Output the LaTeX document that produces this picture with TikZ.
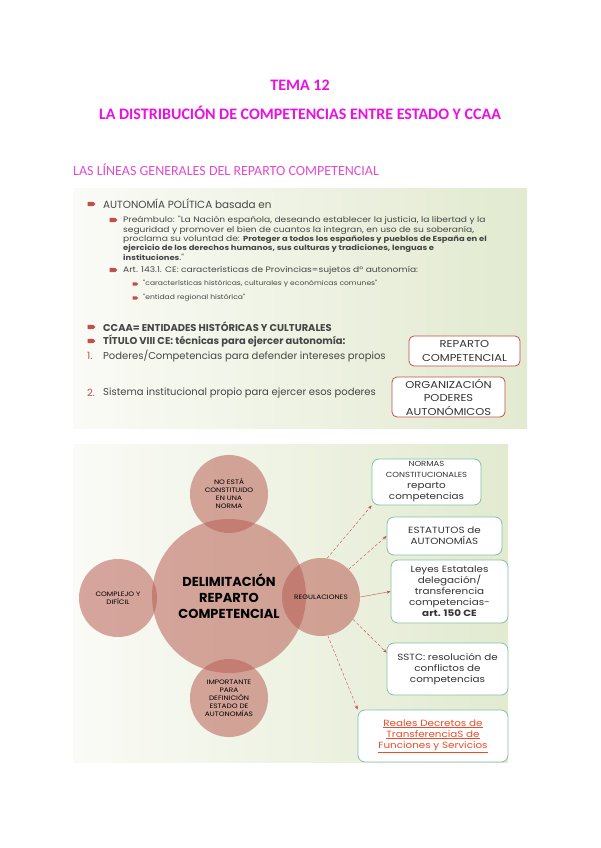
\documentclass[tikz,border=0pt]{standalone}
\usepackage{fontspec}
\setmainfont{Carlito}
\newfontfamily\gothic{Poppins}
\newfontfamily\gothicw[FakeStretch=1.15]{Poppins}
\usetikzlibrary{arrows.meta,positioning,calc}
\definecolor{cMag}{RGB}{235,15,225}
\definecolor{cPink}{RGB}{225,75,205}
\definecolor{cTxt}{RGB}{70,70,70}
\definecolor{cBul}{RGB}{192,80,77}
\definecolor{cRose}{RGB}{185,95,85}
\definecolor{cTeal}{RGB}{130,195,165}
\definecolor{cSlideL}{RGB}{250,251,246}
\definecolor{cSlideR}{RGB}{226,234,208}
\definecolor{cLink}{RGB}{235,75,40}
\newcommand{\bsmall}[1]{{\bfseries\fontsize{7.3}{9.3}\selectfont #1}}
\tikzset{
  titletxt/.style={font=\bfseries\fontsize{16}{18}\selectfont,text=cMag,inner sep=0pt},
  subtxt/.style={anchor=west,inner sep=0pt,text=cPink,
                 font=\fontsize{14}{16}\selectfont},
  slidetxt/.style={anchor=west,inner sep=0pt,text=cTxt,
                   font=\gothic\fontsize{10}{12}\selectfont},
  smalltxt/.style={slidetxt,align=left,font=\gothicw\fontsize{7.9}{9.3}\selectfont},
  tinytxt/.style={slidetxt,font=\gothicw\fontsize{6.6}{7}\selectfont},
  numtxt/.style={anchor=west,inner sep=0pt,text=cBul,
                 font=\gothic\fontsize{10}{12}\selectfont},
  redbox/.style={rectangle,rounded corners=5pt,draw=cBul,thick,fill=white,
                 align=center,inner sep=0pt,text=black!80,
                 font=\gothicw\fontsize{10}{13.5}\selectfont},
  tealbox/.style={rectangle,rounded corners=7pt,draw=cTeal,thick,fill=white,
                  align=center,inner sep=0pt,text=black!80,
                  font=\gothicw\fontsize{9}{11}\selectfont},
  bigcirc/.style={circle,fill=cRose,fill opacity=0.55,text opacity=1,
                  align=center,inner sep=0pt,text=black},
  smallcirc/.style={bigcirc,minimum size=78pt,
                    font=\gothicw\fontsize{6.4}{8}\selectfont},
  regarr/.style={-{Stealth[length=4pt,width=3pt]},thin,color=cBul,densely dashed},
  regsolid/.style={-{Stealth[length=4pt,width=3pt]},thin,color=cBul},
  bullet/.pic={\fill[cBul] (-4,-2.2) -- (1.5,-2.2) -- (4,0) -- (1.5,2.2) -- (-4,2.2) -- cycle;}
}
\begin{document}
\begin{tikzpicture}[x=1pt,y=-1pt]
  \useasboundingbox (0,0) rectangle (600,848);
  % headings
  \node[titletxt] (tema) at (300,85) {TEMA 12};
  \node[titletxt] (dist) at (300,113)
      {LA DISTRIBUCIÓN DE COMPETENCIAS ENTRE ESTADO Y CCAA};
  \node[subtxt] (lineas) at (73,170) {LAS LÍNEAS GENERALES DEL REPARTO COMPETENCIAL};

  % first slide
  \shade[left color=cSlideL,right color=cSlideR] (73,188) rectangle (527,428);
  \foreach \y in {204,327,341} \pic at (91.5,\y) {bullet};
  \foreach \y in {220,270} \pic at (113.5,\y) {bullet};
  \foreach \y in {284,298} \pic[scale=0.7] at (135.5,\y) {bullet};
  \node[slidetxt,font=\gothic\fontsize{10.4}{12}\selectfont] (auto) at (103,204)
      {AUTONOMÍA POLÍTICA basada en};
  \node[smalltxt,anchor=north west] (pream) at (123,216.5)
      {Preámbulo: "La Nación española, deseando establecer la justicia, la libertad y la\\
       seguridad y promover el bien de cuantos la integran, en uso de su soberanía,\\
       proclama su voluntad de: \bsmall{Proteger a todos los españoles y pueblos de España en el}\\
       \bsmall{ejercicio de los derechos humanos, sus culturas y tradiciones, lenguas e}\\
       \bsmall{instituciones}."};
  \node[smalltxt] (art) at (123,270)
      {Art. 143.1. CE: características de Provincias=sujetos dº autonomía:};
  \node[tinytxt] (carac) at (143,284)
      {"características históricas, culturales y económicas comunes"};
  \node[tinytxt] (entid) at (143,298) {"entidad regional histórica"};
  \node[slidetxt,font=\gothic\bfseries\fontsize{9.9}{11}\selectfont] (ccaa) at (103,327)
      {CCAA= ENTIDADES HISTÓRICAS Y CULTURALES};
  \node[slidetxt,font=\gothic\bfseries\fontsize{9.9}{11}\selectfont] (titulo) at (103,341)
      {TÍTULO VIII CE: técnicas para ejercer autonomía:};
  \node[numtxt] (n1) at (87,356) {1.};
  \node[slidetxt] (poder) at (103,356) {Poderes/Competencias para defender intereses propios};
  \node[numtxt] (n2) at (87,393) {2.};
  \node[slidetxt] (siste) at (103,393) {Sistema institucional propio para ejercer esos poderes};
  \node[redbox,minimum width=111pt,minimum height=30pt] (reparto) at (464.5,351)
      {REPARTO\\COMPETENCIAL};
  \node[redbox,minimum width=113pt,minimum height=40pt] (organ) at (448.5,397)
      {ORGANIZACIÓN\\PODERES\\AUTONÓMICOS};

  % second slide
  \shade[left color=cSlideL,right color=cSlideR] (73,444) rectangle (508,762);
  \node[bigcirc,minimum size=154pt,font=\gothic\bfseries\fontsize{13}{16}\selectfont]
      (delim) at (229,596) {DELIMITACIÓN\\REPARTO\\COMPETENCIAL};
  \node[smallcirc] (norma) at (229,494) {NO ESTÁ\\CONSTITUIDO\\EN UNA\\NORMA};
  \node[smallcirc] (compl) at (118,598) {COMPLEJO Y\\DIFÍCIL};
  \node[smallcirc] (reg) at (321,597) {REGULACIONES};
  \node[smallcirc] (impor) at (229,698) {IMPORTANTE\\PARA\\DEFINICIÓN\\ESTADO DE\\AUTONOMÍAS};

  \node[tealbox,minimum width=109pt,minimum height=46pt] (b1) at (426.5,482)
      {{\fontsize{7.4}{8}\selectfont NORMAS}\\{\fontsize{7.4}{9}\selectfont CONSTITUCIONALES}\\reparto\\competencias};
  \node[tealbox,minimum width=115pt,minimum height=38pt] (b2) at (444.5,536)
      {ESTATUTOS de\\AUTONOMÍAS};
  \node[tealbox,minimum width=117pt,minimum height=63pt] (b3) at (449.5,591.5)
      {Leyes Estatales\\delegación/\\transferencia\\competencias-\\\textbf{art. 150 CE}};
  \node[tealbox,minimum width=121pt,minimum height=52pt] (b4) at (447.5,669)
      {SSTC: resolución de\\conflictos de\\competencias};
  \node[tealbox,minimum width=150pt,minimum height=52pt,text=cLink] (b5) at (433,736)
      {\underline{Reales Decretos de}\\\underline{TransferenciaS de}\\\underline{Funciones y Servicios}};

  \foreach \a/\t in {81/b1.south west,45/b2.west,-35/b4.165,-80/b5.north west}
    \draw[regarr] (reg.\a) -- (\t);
  \draw[regsolid] (reg.east) -- (b3.west);
\end{tikzpicture}
\end{document}
